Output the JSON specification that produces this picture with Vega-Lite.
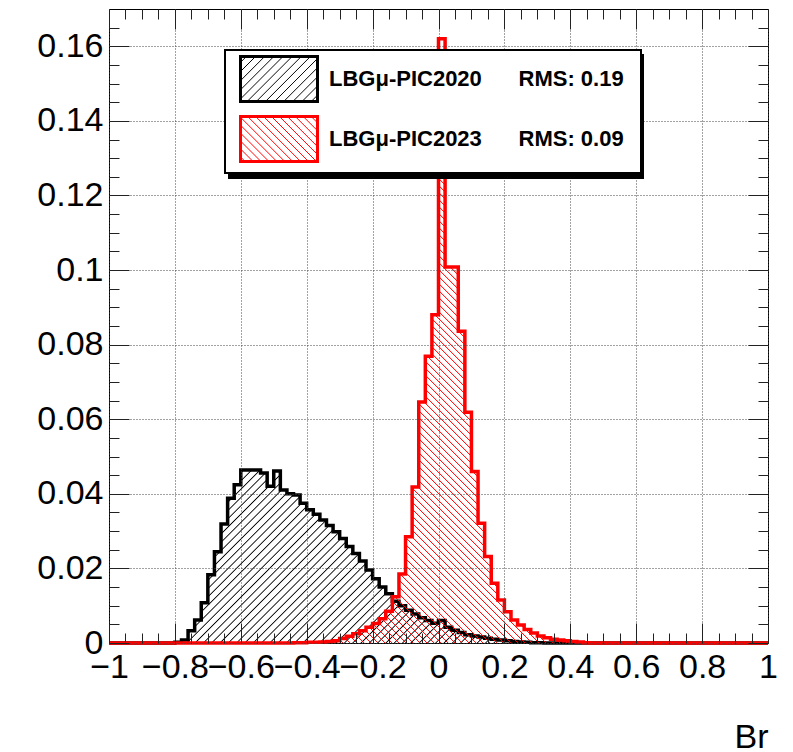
{
  "$schema": "https://vega.github.io/schema/vega-lite/v6.json",
  "autosize": {"type": "none"},
  "width": 659,
  "height": 634,
  "padding": {"left": 109, "top": 9, "right": 25, "bottom": 109},
  "background": "white",
  "config": {
    "view": {"stroke": "black", "strokeWidth": 1},
    "legend": {"strokeWidth": 2}
  },
  "data": {"values": [
    {"x": -1.00, "a": 0, "b": 0}, {"x": -0.98, "a": 0, "b": 0}, {"x": -0.96, "a": 0, "b": 0}, {"x": -0.94, "a": 0, "b": 0},
    {"x": -0.92, "a": 0, "b": 0}, {"x": -0.90, "a": 0, "b": 0}, {"x": -0.88, "a": 0, "b": 0}, {"x": -0.86, "a": 0, "b": 0},
    {"x": -0.84, "a": 0, "b": 0}, {"x": -0.82, "a": 0, "b": 0}, {"x": -0.80, "a": 0.0002, "b": 0}, {"x": -0.78, "a": 0.0008, "b": 0},
    {"x": -0.76, "a": 0.0033, "b": 0}, {"x": -0.74, "a": 0.0062, "b": 0}, {"x": -0.72, "a": 0.0108, "b": 0}, {"x": -0.70, "a": 0.0183, "b": 0},
    {"x": -0.68, "a": 0.0245, "b": 0}, {"x": -0.66, "a": 0.0319, "b": 0}, {"x": -0.64, "a": 0.0388, "b": 0}, {"x": -0.62, "a": 0.0424, "b": 0},
    {"x": -0.60, "a": 0.0464, "b": 0}, {"x": -0.58, "a": 0.0464, "b": 0}, {"x": -0.56, "a": 0.0464, "b": 0}, {"x": -0.54, "a": 0.0456, "b": 0},
    {"x": -0.52, "a": 0.0420, "b": 0}, {"x": -0.50, "a": 0.0461, "b": 0}, {"x": -0.48, "a": 0.0410, "b": 0}, {"x": -0.46, "a": 0.0400, "b": 0},
    {"x": -0.44, "a": 0.0397, "b": 0.0001}, {"x": -0.42, "a": 0.0375, "b": 0.0001}, {"x": -0.40, "a": 0.0357, "b": 0.0002}, {"x": -0.38, "a": 0.0345, "b": 0.0002},
    {"x": -0.36, "a": 0.0330, "b": 0.0003}, {"x": -0.34, "a": 0.0315, "b": 0.0004}, {"x": -0.32, "a": 0.0298, "b": 0.0006}, {"x": -0.30, "a": 0.0280, "b": 0.0012},
    {"x": -0.28, "a": 0.0259, "b": 0.0018}, {"x": -0.26, "a": 0.0240, "b": 0.0025}, {"x": -0.24, "a": 0.0220, "b": 0.0033}, {"x": -0.22, "a": 0.0196, "b": 0.0042},
    {"x": -0.20, "a": 0.0172, "b": 0.0052}, {"x": -0.18, "a": 0.0150, "b": 0.0065}, {"x": -0.16, "a": 0.0132, "b": 0.0085}, {"x": -0.14, "a": 0.0112, "b": 0.0124},
    {"x": -0.12, "a": 0.0100, "b": 0.0185}, {"x": -0.10, "a": 0.0088, "b": 0.0285}, {"x": -0.08, "a": 0.0078, "b": 0.0418}, {"x": -0.06, "a": 0.0068, "b": 0.0646},
    {"x": -0.04, "a": 0.0060, "b": 0.0769}, {"x": -0.02, "a": 0.0053, "b": 0.0880}, {"x": 0.00, "a": 0.0060, "b": 0.1620}, {"x": 0.02, "a": 0.0042, "b": 0.1008},
    {"x": 0.04, "a": 0.0034, "b": 0.1008}, {"x": 0.06, "a": 0.0028, "b": 0.0836}, {"x": 0.08, "a": 0.0022, "b": 0.0619}, {"x": 0.10, "a": 0.0019, "b": 0.0460},
    {"x": 0.12, "a": 0.0016, "b": 0.0321}, {"x": 0.14, "a": 0.0013, "b": 0.0232}, {"x": 0.16, "a": 0.0010, "b": 0.0160}, {"x": 0.18, "a": 0.0008, "b": 0.0115},
    {"x": 0.20, "a": 0.0006, "b": 0.0084}, {"x": 0.22, "a": 0.0004, "b": 0.0062}, {"x": 0.24, "a": 0.0003, "b": 0.0048}, {"x": 0.26, "a": 0.0002, "b": 0.0036},
    {"x": 0.28, "a": 0.0001, "b": 0.0027}, {"x": 0.30, "a": 0.0001, "b": 0.0019}, {"x": 0.32, "a": 0, "b": 0.0014}, {"x": 0.34, "a": 0, "b": 0.0010},
    {"x": 0.36, "a": 0, "b": 0.0008}, {"x": 0.38, "a": 0, "b": 0.0006}, {"x": 0.40, "a": 0, "b": 0.0004}, {"x": 0.42, "a": 0, "b": 0.0003},
    {"x": 0.44, "a": 0, "b": 0.0001}, {"x": 0.46, "a": 0, "b": 0}, {"x": 0.48, "a": 0, "b": 0}, {"x": 0.50, "a": 0, "b": 0},
    {"x": 0.52, "a": 0, "b": 0}, {"x": 0.54, "a": 0, "b": 0}, {"x": 0.56, "a": 0, "b": 0}, {"x": 0.58, "a": 0, "b": 0},
    {"x": 0.60, "a": 0, "b": 0}, {"x": 0.62, "a": 0, "b": 0}, {"x": 0.64, "a": 0, "b": 0}, {"x": 0.66, "a": 0, "b": 0},
    {"x": 0.68, "a": 0, "b": 0}, {"x": 0.70, "a": 0, "b": 0}, {"x": 0.72, "a": 0, "b": 0}, {"x": 0.74, "a": 0, "b": 0},
    {"x": 0.76, "a": 0, "b": 0}, {"x": 0.78, "a": 0, "b": 0}, {"x": 0.80, "a": 0, "b": 0}, {"x": 0.82, "a": 0, "b": 0},
    {"x": 0.84, "a": 0, "b": 0}, {"x": 0.86, "a": 0, "b": 0}, {"x": 0.88, "a": 0, "b": 0}, {"x": 0.90, "a": 0, "b": 0},
    {"x": 0.92, "a": 0, "b": 0}, {"x": 0.94, "a": 0, "b": 0}, {"x": 0.96, "a": 0, "b": 0}, {"x": 0.98, "a": 0, "b": 0},
    {"x": 1.00, "a": 0, "b": 0}
  ]},
  "resolve": {"axis": {"x": "independent", "y": "independent"}},
  "layer": [
    {
      "mark": {"type": "area", "interpolate": "step-after",
        "fill": {"gradient": "linear", "x1": 0.18968, "y1": 0, "x2": 1.36797, "y2": 0.30932, "stops": [
          {"offset":0,"color":"rgba(0,0,0,0)"},{"offset":0.0015,"color":"#000"},{"offset":0.003,"color":"rgba(0,0,0,0)"},
          {"offset":0.01,"color":"rgba(0,0,0,0)"},{"offset":0.0115,"color":"#000"},{"offset":0.013,"color":"rgba(0,0,0,0)"},
          {"offset":0.02,"color":"rgba(0,0,0,0)"},{"offset":0.0215,"color":"#000"},{"offset":0.023,"color":"rgba(0,0,0,0)"},
          {"offset":0.03,"color":"rgba(0,0,0,0)"},{"offset":0.0315,"color":"#000"},{"offset":0.033,"color":"rgba(0,0,0,0)"},
          {"offset":0.04,"color":"rgba(0,0,0,0)"},{"offset":0.0415,"color":"#000"},{"offset":0.043,"color":"rgba(0,0,0,0)"},
          {"offset":0.05,"color":"rgba(0,0,0,0)"},{"offset":0.0515,"color":"#000"},{"offset":0.053,"color":"rgba(0,0,0,0)"},
          {"offset":0.06,"color":"rgba(0,0,0,0)"},{"offset":0.0615,"color":"#000"},{"offset":0.063,"color":"rgba(0,0,0,0)"},
          {"offset":0.07,"color":"rgba(0,0,0,0)"},{"offset":0.0715,"color":"#000"},{"offset":0.073,"color":"rgba(0,0,0,0)"},
          {"offset":0.08,"color":"rgba(0,0,0,0)"},{"offset":0.0815,"color":"#000"},{"offset":0.083,"color":"rgba(0,0,0,0)"},
          {"offset":0.09,"color":"rgba(0,0,0,0)"},{"offset":0.0915,"color":"#000"},{"offset":0.093,"color":"rgba(0,0,0,0)"},
          {"offset":0.10,"color":"rgba(0,0,0,0)"},{"offset":0.1015,"color":"#000"},{"offset":0.103,"color":"rgba(0,0,0,0)"},
          {"offset":0.11,"color":"rgba(0,0,0,0)"},{"offset":0.1115,"color":"#000"},{"offset":0.113,"color":"rgba(0,0,0,0)"},
          {"offset":0.12,"color":"rgba(0,0,0,0)"},{"offset":0.1215,"color":"#000"},{"offset":0.123,"color":"rgba(0,0,0,0)"},
          {"offset":0.13,"color":"rgba(0,0,0,0)"},{"offset":0.1315,"color":"#000"},{"offset":0.133,"color":"rgba(0,0,0,0)"},
          {"offset":0.14,"color":"rgba(0,0,0,0)"},{"offset":0.1415,"color":"#000"},{"offset":0.143,"color":"rgba(0,0,0,0)"},
          {"offset":0.15,"color":"rgba(0,0,0,0)"},{"offset":0.1515,"color":"#000"},{"offset":0.153,"color":"rgba(0,0,0,0)"},
          {"offset":0.16,"color":"rgba(0,0,0,0)"},{"offset":0.1615,"color":"#000"},{"offset":0.163,"color":"rgba(0,0,0,0)"},
          {"offset":0.17,"color":"rgba(0,0,0,0)"},{"offset":0.1715,"color":"#000"},{"offset":0.173,"color":"rgba(0,0,0,0)"},
          {"offset":0.18,"color":"rgba(0,0,0,0)"},{"offset":0.1815,"color":"#000"},{"offset":0.183,"color":"rgba(0,0,0,0)"},
          {"offset":0.19,"color":"rgba(0,0,0,0)"},{"offset":0.1915,"color":"#000"},{"offset":0.193,"color":"rgba(0,0,0,0)"},
          {"offset":0.20,"color":"rgba(0,0,0,0)"},{"offset":0.2015,"color":"#000"},{"offset":0.203,"color":"rgba(0,0,0,0)"},
          {"offset":0.21,"color":"rgba(0,0,0,0)"},{"offset":0.2115,"color":"#000"},{"offset":0.213,"color":"rgba(0,0,0,0)"},
          {"offset":0.22,"color":"rgba(0,0,0,0)"},{"offset":0.2215,"color":"#000"},{"offset":0.223,"color":"rgba(0,0,0,0)"},
          {"offset":0.23,"color":"rgba(0,0,0,0)"},{"offset":0.2315,"color":"#000"},{"offset":0.233,"color":"rgba(0,0,0,0)"},
          {"offset":0.24,"color":"rgba(0,0,0,0)"},{"offset":0.2415,"color":"#000"},{"offset":0.243,"color":"rgba(0,0,0,0)"},
          {"offset":0.25,"color":"rgba(0,0,0,0)"},{"offset":0.2515,"color":"#000"},{"offset":0.253,"color":"rgba(0,0,0,0)"},
          {"offset":0.26,"color":"rgba(0,0,0,0)"},{"offset":0.2615,"color":"#000"},{"offset":0.263,"color":"rgba(0,0,0,0)"},
          {"offset":0.27,"color":"rgba(0,0,0,0)"},{"offset":0.2715,"color":"#000"},{"offset":0.273,"color":"rgba(0,0,0,0)"},
          {"offset":0.28,"color":"rgba(0,0,0,0)"},{"offset":0.2815,"color":"#000"},{"offset":0.283,"color":"rgba(0,0,0,0)"},
          {"offset":0.29,"color":"rgba(0,0,0,0)"},{"offset":0.2915,"color":"#000"},{"offset":0.293,"color":"rgba(0,0,0,0)"},
          {"offset":0.30,"color":"rgba(0,0,0,0)"},{"offset":0.3015,"color":"#000"},{"offset":0.303,"color":"rgba(0,0,0,0)"},
          {"offset":0.31,"color":"rgba(0,0,0,0)"},{"offset":0.3115,"color":"#000"},{"offset":0.313,"color":"rgba(0,0,0,0)"},
          {"offset":0.32,"color":"rgba(0,0,0,0)"},{"offset":0.3215,"color":"#000"},{"offset":0.323,"color":"rgba(0,0,0,0)"},
          {"offset":0.33,"color":"rgba(0,0,0,0)"},{"offset":0.3315,"color":"#000"},{"offset":0.333,"color":"rgba(0,0,0,0)"},
          {"offset":0.34,"color":"rgba(0,0,0,0)"},{"offset":0.3415,"color":"#000"},{"offset":0.343,"color":"rgba(0,0,0,0)"},
          {"offset":0.35,"color":"rgba(0,0,0,0)"},{"offset":0.3515,"color":"#000"},{"offset":0.353,"color":"rgba(0,0,0,0)"},
          {"offset":0.36,"color":"rgba(0,0,0,0)"},{"offset":0.3615,"color":"#000"},{"offset":0.363,"color":"rgba(0,0,0,0)"},
          {"offset":0.37,"color":"rgba(0,0,0,0)"},{"offset":0.3715,"color":"#000"},{"offset":0.373,"color":"rgba(0,0,0,0)"},
          {"offset":0.38,"color":"rgba(0,0,0,0)"},{"offset":0.3815,"color":"#000"},{"offset":0.383,"color":"rgba(0,0,0,0)"},
          {"offset":0.39,"color":"rgba(0,0,0,0)"},{"offset":0.3915,"color":"#000"},{"offset":0.393,"color":"rgba(0,0,0,0)"},
          {"offset":0.40,"color":"rgba(0,0,0,0)"},{"offset":0.4015,"color":"#000"},{"offset":0.403,"color":"rgba(0,0,0,0)"},
          {"offset":0.41,"color":"rgba(0,0,0,0)"},{"offset":0.4115,"color":"#000"},{"offset":0.413,"color":"rgba(0,0,0,0)"},
          {"offset":0.42,"color":"rgba(0,0,0,0)"},{"offset":0.4215,"color":"#000"},{"offset":0.423,"color":"rgba(0,0,0,0)"},
          {"offset":0.43,"color":"rgba(0,0,0,0)"},{"offset":0.4315,"color":"#000"},{"offset":0.433,"color":"rgba(0,0,0,0)"},
          {"offset":0.44,"color":"rgba(0,0,0,0)"},{"offset":0.4415,"color":"#000"},{"offset":0.443,"color":"rgba(0,0,0,0)"},
          {"offset":0.45,"color":"rgba(0,0,0,0)"},{"offset":0.4515,"color":"#000"},{"offset":0.453,"color":"rgba(0,0,0,0)"},
          {"offset":0.46,"color":"rgba(0,0,0,0)"},{"offset":0.4615,"color":"#000"},{"offset":0.463,"color":"rgba(0,0,0,0)"},
          {"offset":0.47,"color":"rgba(0,0,0,0)"},{"offset":0.4715,"color":"#000"},{"offset":0.473,"color":"rgba(0,0,0,0)"},
          {"offset":0.48,"color":"rgba(0,0,0,0)"},{"offset":0.4815,"color":"#000"},{"offset":0.483,"color":"rgba(0,0,0,0)"},
          {"offset":0.49,"color":"rgba(0,0,0,0)"},{"offset":0.4915,"color":"#000"},{"offset":0.493,"color":"rgba(0,0,0,0)"},
          {"offset":0.50,"color":"rgba(0,0,0,0)"},{"offset":0.5015,"color":"#000"},{"offset":0.503,"color":"rgba(0,0,0,0)"},
          {"offset":0.51,"color":"rgba(0,0,0,0)"},{"offset":0.5115,"color":"#000"},{"offset":0.513,"color":"rgba(0,0,0,0)"},
          {"offset":0.52,"color":"rgba(0,0,0,0)"},{"offset":0.5215,"color":"#000"},{"offset":0.523,"color":"rgba(0,0,0,0)"},
          {"offset":0.53,"color":"rgba(0,0,0,0)"},{"offset":0.5315,"color":"#000"},{"offset":0.533,"color":"rgba(0,0,0,0)"},
          {"offset":0.54,"color":"rgba(0,0,0,0)"},{"offset":0.5415,"color":"#000"},{"offset":0.543,"color":"rgba(0,0,0,0)"},
          {"offset":0.55,"color":"rgba(0,0,0,0)"},{"offset":0.5515,"color":"#000"},{"offset":0.553,"color":"rgba(0,0,0,0)"},
          {"offset":0.56,"color":"rgba(0,0,0,0)"},{"offset":0.5615,"color":"#000"},{"offset":0.563,"color":"rgba(0,0,0,0)"},
          {"offset":0.57,"color":"rgba(0,0,0,0)"},{"offset":0.5715,"color":"#000"},{"offset":0.573,"color":"rgba(0,0,0,0)"},
          {"offset":0.58,"color":"rgba(0,0,0,0)"},{"offset":0.5815,"color":"#000"},{"offset":0.583,"color":"rgba(0,0,0,0)"},
          {"offset":0.59,"color":"rgba(0,0,0,0)"},{"offset":0.5915,"color":"#000"},{"offset":0.593,"color":"rgba(0,0,0,0)"}
        ]}
      },
      "encoding": {
        "x": {"field": "x", "type": "quantitative",
          "scale": {"domain": [-1, 1], "nice": false, "zero": false},
          "axis": {
            "orient": "bottom", "domain": false, "title": "Br",
            "values": [-1,-0.95,-0.9,-0.85,-0.8,-0.75,-0.7,-0.65,-0.6,-0.55,-0.5,-0.45,-0.4,-0.35,-0.3,-0.25,-0.2,-0.15,-0.1,-0.05,0,0.05,0.1,0.15,0.2,0.25,0.3,0.35,0.4,0.45,0.5,0.55,0.6,0.65,0.7,0.75,0.8,0.85,0.9,0.95,1],
            "labelExpr": "abs(datum.value*5-round(datum.value*5))<1e-6 ? format(datum.value,'.1~f') : ''",
            "labelFont": "Liberation Sans", "labelFontSize": 34, "labelColor": "black",
            "labelPadding": 27, "labelOverlap": false, "labelFlush": false, "labelBound": false,
            "tickSize": {"condition": {"test": "abs(datum.value*5-round(datum.value*5))<1e-6", "value": -20}, "value": -10},
            "tickColor": "#222", "tickWidth": 1,
            "grid": true, "gridDash": [1, 2], "gridColor": "#444", "gridWidth": 1,
            "gridOpacity": {"condition": {"test": "abs(datum.value*5-round(datum.value*5))<1e-6", "value": 1}, "value": 0},
            "titleFont": "Liberation Sans", "titleFontSize": 34, "titleFontWeight": "normal", "titleColor": "black",
            "titleAnchor": "end", "titleAlign": "right", "titleX": 659, "titleY": 104, "titleBaseline": "alphabetic",
            "zindex": 1
          }
        },
        "y": {"field": "a", "type": "quantitative",
          "scale": {"domain": [0, 0.17], "nice": false},
          "axis": {
            "orient": "left", "domain": false, "title": null,
            "values": [0,0.005,0.01,0.015,0.02,0.025,0.03,0.035,0.04,0.045,0.05,0.055,0.06,0.065,0.07,0.075,0.08,0.085,0.09,0.095,0.1,0.105,0.11,0.115,0.12,0.125,0.13,0.135,0.14,0.145,0.15,0.155,0.16,0.165],
            "labelExpr": "abs(datum.value*50-round(datum.value*50))<1e-6 ? format(datum.value,'.2~f') : ''",
            "labelFont": "Liberation Sans", "labelFontSize": 34, "labelColor": "black",
            "labelPadding": 26, "labelOverlap": false, "labelFlush": false, "labelBound": false,
            "tickSize": {"condition": {"test": "abs(datum.value*50-round(datum.value*50))<1e-6", "value": -20}, "value": -10},
            "tickColor": "#222", "tickWidth": 1,
            "grid": true, "gridDash": [1, 2], "gridColor": "#444", "gridWidth": 1,
            "gridOpacity": {"condition": {"test": "abs(datum.value*50-round(datum.value*50))<1e-6", "value": 1}, "value": 0},
            "zindex": 1
          }
        }
      }
    },
    {
      "mark": {"type": "line", "interpolate": "step-after", "strokeWidth": 3.5},
      "encoding": {
        "x": {"field": "x", "type": "quantitative", "axis": null},
        "y": {"field": "a", "type": "quantitative", "axis": null},
        "color": {"datum": "LBGμ-PIC2020",
          "scale": {"domain": ["LBGμ-PIC2020", "LBGμ-PIC2023"], "range": ["#000000", "#ff0000"]},
          "legend": {
            "orient": "none", "legendX": 116, "legendY": 41, "title": null, "direction": "vertical", "zindex": 3,
            "symbolType": "M-1.711,-1L1.711,-1L1.711,1L-1.711,1Z", "symbolSize": 2025, "symbolOffset": 25, "symbolStrokeWidth": 3,
            "labelFont": "Liberation Sans", "labelFontWeight": "bold", "labelFontSize": 22, "labelColor": "black",
            "labelOffset": 26, "rowPadding": 2, "padding": 5, "labelLimit": 0,
            "fillColor": "white", "strokeColor": "black",
            "labelExpr": "datum.label + '\u00a0\u00a0\u00a0\u00a0\u00a0\u00a0' + (datum.value == 'LBGμ-PIC2020' ? 'RMS: 0.19' : 'RMS: 0.09') + '\u00a0\u00a0\u200b'",
            "encode": {"symbols": {"update": {
              "fill": [
                {"test": "datum.value == 'LBGμ-PIC2020'", "value": {"gradient": "linear", "x1": 0, "y1": 0, "x2": 1.18104, "y2": 0.69021, "stops": [
                  {"offset":0.04,"color":"rgba(0,0,0,0)"},{"offset":0.048,"color":"#000"},{"offset":0.056,"color":"rgba(0,0,0,0)"},
                  {"offset":0.115,"color":"rgba(0,0,0,0)"},{"offset":0.123,"color":"#000"},{"offset":0.131,"color":"rgba(0,0,0,0)"},
                  {"offset":0.19,"color":"rgba(0,0,0,0)"},{"offset":0.198,"color":"#000"},{"offset":0.206,"color":"rgba(0,0,0,0)"},
                  {"offset":0.265,"color":"rgba(0,0,0,0)"},{"offset":0.273,"color":"#000"},{"offset":0.281,"color":"rgba(0,0,0,0)"},
                  {"offset":0.34,"color":"rgba(0,0,0,0)"},{"offset":0.348,"color":"#000"},{"offset":0.356,"color":"rgba(0,0,0,0)"},
                  {"offset":0.415,"color":"rgba(0,0,0,0)"},{"offset":0.423,"color":"#000"},{"offset":0.431,"color":"rgba(0,0,0,0)"},
                  {"offset":0.49,"color":"rgba(0,0,0,0)"},{"offset":0.498,"color":"#000"},{"offset":0.506,"color":"rgba(0,0,0,0)"},
                  {"offset":0.565,"color":"rgba(0,0,0,0)"},{"offset":0.573,"color":"#000"},{"offset":0.581,"color":"rgba(0,0,0,0)"},
                  {"offset":0.64,"color":"rgba(0,0,0,0)"},{"offset":0.648,"color":"#000"},{"offset":0.656,"color":"rgba(0,0,0,0)"},
                  {"offset":0.715,"color":"rgba(0,0,0,0)"},{"offset":0.723,"color":"#000"},{"offset":0.731,"color":"rgba(0,0,0,0)"},
                  {"offset":0.79,"color":"rgba(0,0,0,0)"},{"offset":0.798,"color":"#000"},{"offset":0.806,"color":"rgba(0,0,0,0)"},
                  {"offset":0.865,"color":"rgba(0,0,0,0)"},{"offset":0.873,"color":"#000"},{"offset":0.881,"color":"rgba(0,0,0,0)"},
                  {"offset":0.94,"color":"rgba(0,0,0,0)"},{"offset":0.948,"color":"#000"},{"offset":0.956,"color":"rgba(0,0,0,0)"}
                ]}},
                {"value": {"gradient": "linear", "x1": 0, "y1": 1, "x2": 1.18104, "y2": 0.30979, "stops": [
                  {"offset":0.03,"color":"rgba(255,0,0,0)"},{"offset":0.038,"color":"#f00"},{"offset":0.046,"color":"rgba(255,0,0,0)"},
                  {"offset":0.095,"color":"rgba(255,0,0,0)"},{"offset":0.103,"color":"#f00"},{"offset":0.111,"color":"rgba(255,0,0,0)"},
                  {"offset":0.16,"color":"rgba(255,0,0,0)"},{"offset":0.168,"color":"#f00"},{"offset":0.176,"color":"rgba(255,0,0,0)"},
                  {"offset":0.225,"color":"rgba(255,0,0,0)"},{"offset":0.233,"color":"#f00"},{"offset":0.241,"color":"rgba(255,0,0,0)"},
                  {"offset":0.29,"color":"rgba(255,0,0,0)"},{"offset":0.298,"color":"#f00"},{"offset":0.306,"color":"rgba(255,0,0,0)"},
                  {"offset":0.355,"color":"rgba(255,0,0,0)"},{"offset":0.363,"color":"#f00"},{"offset":0.371,"color":"rgba(255,0,0,0)"},
                  {"offset":0.42,"color":"rgba(255,0,0,0)"},{"offset":0.428,"color":"#f00"},{"offset":0.436,"color":"rgba(255,0,0,0)"},
                  {"offset":0.485,"color":"rgba(255,0,0,0)"},{"offset":0.493,"color":"#f00"},{"offset":0.501,"color":"rgba(255,0,0,0)"},
                  {"offset":0.55,"color":"rgba(255,0,0,0)"},{"offset":0.558,"color":"#f00"},{"offset":0.566,"color":"rgba(255,0,0,0)"},
                  {"offset":0.615,"color":"rgba(255,0,0,0)"},{"offset":0.623,"color":"#f00"},{"offset":0.631,"color":"rgba(255,0,0,0)"},
                  {"offset":0.68,"color":"rgba(255,0,0,0)"},{"offset":0.688,"color":"#f00"},{"offset":0.696,"color":"rgba(255,0,0,0)"},
                  {"offset":0.745,"color":"rgba(255,0,0,0)"},{"offset":0.753,"color":"#f00"},{"offset":0.761,"color":"rgba(255,0,0,0)"},
                  {"offset":0.81,"color":"rgba(255,0,0,0)"},{"offset":0.818,"color":"#f00"},{"offset":0.826,"color":"rgba(255,0,0,0)"},
                  {"offset":0.875,"color":"rgba(255,0,0,0)"},{"offset":0.883,"color":"#f00"},{"offset":0.891,"color":"rgba(255,0,0,0)"},
                  {"offset":0.94,"color":"rgba(255,0,0,0)"},{"offset":0.948,"color":"#f00"},{"offset":0.956,"color":"rgba(255,0,0,0)"}
                ]}}
              ],
              "fillOpacity": {"value": 1},
              "stroke": {"scale": "color", "field": "value"},
              "strokeWidth": {"value": 3}
            }}}
          }
        }
      }
    },
    {
      "mark": {"type": "area", "interpolate": "step-after",
        "fill": {"gradient": "linear", "x1": 0.25797, "y1": 1, "x2": 0.83524, "y2": 0.4709, "stops": [
          {"offset":0,"color":"rgba(255,0,0,0)"},{"offset":0.0015,"color":"#f00"},{"offset":0.003,"color":"rgba(255,0,0,0)"},
          {"offset":0.01,"color":"rgba(255,0,0,0)"},{"offset":0.0115,"color":"#f00"},{"offset":0.013,"color":"rgba(255,0,0,0)"},
          {"offset":0.02,"color":"rgba(255,0,0,0)"},{"offset":0.0215,"color":"#f00"},{"offset":0.023,"color":"rgba(255,0,0,0)"},
          {"offset":0.03,"color":"rgba(255,0,0,0)"},{"offset":0.0315,"color":"#f00"},{"offset":0.033,"color":"rgba(255,0,0,0)"},
          {"offset":0.04,"color":"rgba(255,0,0,0)"},{"offset":0.0415,"color":"#f00"},{"offset":0.043,"color":"rgba(255,0,0,0)"},
          {"offset":0.05,"color":"rgba(255,0,0,0)"},{"offset":0.0515,"color":"#f00"},{"offset":0.053,"color":"rgba(255,0,0,0)"},
          {"offset":0.06,"color":"rgba(255,0,0,0)"},{"offset":0.0615,"color":"#f00"},{"offset":0.063,"color":"rgba(255,0,0,0)"},
          {"offset":0.07,"color":"rgba(255,0,0,0)"},{"offset":0.0715,"color":"#f00"},{"offset":0.073,"color":"rgba(255,0,0,0)"},
          {"offset":0.08,"color":"rgba(255,0,0,0)"},{"offset":0.0815,"color":"#f00"},{"offset":0.083,"color":"rgba(255,0,0,0)"},
          {"offset":0.09,"color":"rgba(255,0,0,0)"},{"offset":0.0915,"color":"#f00"},{"offset":0.093,"color":"rgba(255,0,0,0)"},
          {"offset":0.10,"color":"rgba(255,0,0,0)"},{"offset":0.1015,"color":"#f00"},{"offset":0.103,"color":"rgba(255,0,0,0)"},
          {"offset":0.11,"color":"rgba(255,0,0,0)"},{"offset":0.1115,"color":"#f00"},{"offset":0.113,"color":"rgba(255,0,0,0)"},
          {"offset":0.12,"color":"rgba(255,0,0,0)"},{"offset":0.1215,"color":"#f00"},{"offset":0.123,"color":"rgba(255,0,0,0)"},
          {"offset":0.13,"color":"rgba(255,0,0,0)"},{"offset":0.1315,"color":"#f00"},{"offset":0.133,"color":"rgba(255,0,0,0)"},
          {"offset":0.14,"color":"rgba(255,0,0,0)"},{"offset":0.1415,"color":"#f00"},{"offset":0.143,"color":"rgba(255,0,0,0)"},
          {"offset":0.15,"color":"rgba(255,0,0,0)"},{"offset":0.1515,"color":"#f00"},{"offset":0.153,"color":"rgba(255,0,0,0)"},
          {"offset":0.16,"color":"rgba(255,0,0,0)"},{"offset":0.1615,"color":"#f00"},{"offset":0.163,"color":"rgba(255,0,0,0)"},
          {"offset":0.17,"color":"rgba(255,0,0,0)"},{"offset":0.1715,"color":"#f00"},{"offset":0.173,"color":"rgba(255,0,0,0)"},
          {"offset":0.18,"color":"rgba(255,0,0,0)"},{"offset":0.1815,"color":"#f00"},{"offset":0.183,"color":"rgba(255,0,0,0)"},
          {"offset":0.19,"color":"rgba(255,0,0,0)"},{"offset":0.1915,"color":"#f00"},{"offset":0.193,"color":"rgba(255,0,0,0)"},
          {"offset":0.20,"color":"rgba(255,0,0,0)"},{"offset":0.2015,"color":"#f00"},{"offset":0.203,"color":"rgba(255,0,0,0)"},
          {"offset":0.21,"color":"rgba(255,0,0,0)"},{"offset":0.2115,"color":"#f00"},{"offset":0.213,"color":"rgba(255,0,0,0)"},
          {"offset":0.22,"color":"rgba(255,0,0,0)"},{"offset":0.2215,"color":"#f00"},{"offset":0.223,"color":"rgba(255,0,0,0)"},
          {"offset":0.23,"color":"rgba(255,0,0,0)"},{"offset":0.2315,"color":"#f00"},{"offset":0.233,"color":"rgba(255,0,0,0)"},
          {"offset":0.24,"color":"rgba(255,0,0,0)"},{"offset":0.2415,"color":"#f00"},{"offset":0.243,"color":"rgba(255,0,0,0)"},
          {"offset":0.25,"color":"rgba(255,0,0,0)"},{"offset":0.2515,"color":"#f00"},{"offset":0.253,"color":"rgba(255,0,0,0)"},
          {"offset":0.26,"color":"rgba(255,0,0,0)"},{"offset":0.2615,"color":"#f00"},{"offset":0.263,"color":"rgba(255,0,0,0)"},
          {"offset":0.27,"color":"rgba(255,0,0,0)"},{"offset":0.2715,"color":"#f00"},{"offset":0.273,"color":"rgba(255,0,0,0)"},
          {"offset":0.28,"color":"rgba(255,0,0,0)"},{"offset":0.2815,"color":"#f00"},{"offset":0.283,"color":"rgba(255,0,0,0)"},
          {"offset":0.29,"color":"rgba(255,0,0,0)"},{"offset":0.2915,"color":"#f00"},{"offset":0.293,"color":"rgba(255,0,0,0)"},
          {"offset":0.30,"color":"rgba(255,0,0,0)"},{"offset":0.3015,"color":"#f00"},{"offset":0.303,"color":"rgba(255,0,0,0)"},
          {"offset":0.31,"color":"rgba(255,0,0,0)"},{"offset":0.3115,"color":"#f00"},{"offset":0.313,"color":"rgba(255,0,0,0)"},
          {"offset":0.32,"color":"rgba(255,0,0,0)"},{"offset":0.3215,"color":"#f00"},{"offset":0.323,"color":"rgba(255,0,0,0)"},
          {"offset":0.33,"color":"rgba(255,0,0,0)"},{"offset":0.3315,"color":"#f00"},{"offset":0.333,"color":"rgba(255,0,0,0)"},
          {"offset":0.34,"color":"rgba(255,0,0,0)"},{"offset":0.3415,"color":"#f00"},{"offset":0.343,"color":"rgba(255,0,0,0)"},
          {"offset":0.35,"color":"rgba(255,0,0,0)"},{"offset":0.3515,"color":"#f00"},{"offset":0.353,"color":"rgba(255,0,0,0)"},
          {"offset":0.36,"color":"rgba(255,0,0,0)"},{"offset":0.3615,"color":"#f00"},{"offset":0.363,"color":"rgba(255,0,0,0)"},
          {"offset":0.37,"color":"rgba(255,0,0,0)"},{"offset":0.3715,"color":"#f00"},{"offset":0.373,"color":"rgba(255,0,0,0)"},
          {"offset":0.38,"color":"rgba(255,0,0,0)"},{"offset":0.3815,"color":"#f00"},{"offset":0.383,"color":"rgba(255,0,0,0)"},
          {"offset":0.39,"color":"rgba(255,0,0,0)"},{"offset":0.3915,"color":"#f00"},{"offset":0.393,"color":"rgba(255,0,0,0)"},
          {"offset":0.40,"color":"rgba(255,0,0,0)"},{"offset":0.4015,"color":"#f00"},{"offset":0.403,"color":"rgba(255,0,0,0)"},
          {"offset":0.41,"color":"rgba(255,0,0,0)"},{"offset":0.4115,"color":"#f00"},{"offset":0.413,"color":"rgba(255,0,0,0)"},
          {"offset":0.42,"color":"rgba(255,0,0,0)"},{"offset":0.4215,"color":"#f00"},{"offset":0.423,"color":"rgba(255,0,0,0)"},
          {"offset":0.43,"color":"rgba(255,0,0,0)"},{"offset":0.4315,"color":"#f00"},{"offset":0.433,"color":"rgba(255,0,0,0)"},
          {"offset":0.44,"color":"rgba(255,0,0,0)"},{"offset":0.4415,"color":"#f00"},{"offset":0.443,"color":"rgba(255,0,0,0)"},
          {"offset":0.45,"color":"rgba(255,0,0,0)"},{"offset":0.4515,"color":"#f00"},{"offset":0.453,"color":"rgba(255,0,0,0)"},
          {"offset":0.46,"color":"rgba(255,0,0,0)"},{"offset":0.4615,"color":"#f00"},{"offset":0.463,"color":"rgba(255,0,0,0)"},
          {"offset":0.47,"color":"rgba(255,0,0,0)"},{"offset":0.4715,"color":"#f00"},{"offset":0.473,"color":"rgba(255,0,0,0)"},
          {"offset":0.48,"color":"rgba(255,0,0,0)"},{"offset":0.4815,"color":"#f00"},{"offset":0.483,"color":"rgba(255,0,0,0)"},
          {"offset":0.49,"color":"rgba(255,0,0,0)"},{"offset":0.4915,"color":"#f00"},{"offset":0.493,"color":"rgba(255,0,0,0)"},
          {"offset":0.50,"color":"rgba(255,0,0,0)"},{"offset":0.5015,"color":"#f00"},{"offset":0.503,"color":"rgba(255,0,0,0)"},
          {"offset":0.51,"color":"rgba(255,0,0,0)"},{"offset":0.5115,"color":"#f00"},{"offset":0.513,"color":"rgba(255,0,0,0)"},
          {"offset":0.52,"color":"rgba(255,0,0,0)"},{"offset":0.5215,"color":"#f00"},{"offset":0.523,"color":"rgba(255,0,0,0)"},
          {"offset":0.53,"color":"rgba(255,0,0,0)"},{"offset":0.5315,"color":"#f00"},{"offset":0.533,"color":"rgba(255,0,0,0)"},
          {"offset":0.54,"color":"rgba(255,0,0,0)"},{"offset":0.5415,"color":"#f00"},{"offset":0.543,"color":"rgba(255,0,0,0)"},
          {"offset":0.55,"color":"rgba(255,0,0,0)"},{"offset":0.5515,"color":"#f00"},{"offset":0.553,"color":"rgba(255,0,0,0)"},
          {"offset":0.56,"color":"rgba(255,0,0,0)"},{"offset":0.5615,"color":"#f00"},{"offset":0.563,"color":"rgba(255,0,0,0)"},
          {"offset":0.57,"color":"rgba(255,0,0,0)"},{"offset":0.5715,"color":"#f00"},{"offset":0.573,"color":"rgba(255,0,0,0)"},
          {"offset":0.58,"color":"rgba(255,0,0,0)"},{"offset":0.5815,"color":"#f00"},{"offset":0.583,"color":"rgba(255,0,0,0)"},
          {"offset":0.59,"color":"rgba(255,0,0,0)"},{"offset":0.5915,"color":"#f00"},{"offset":0.593,"color":"rgba(255,0,0,0)"},
          {"offset":0.60,"color":"rgba(255,0,0,0)"},{"offset":0.6015,"color":"#f00"},{"offset":0.603,"color":"rgba(255,0,0,0)"},
          {"offset":0.61,"color":"rgba(255,0,0,0)"},{"offset":0.6115,"color":"#f00"},{"offset":0.613,"color":"rgba(255,0,0,0)"},
          {"offset":0.62,"color":"rgba(255,0,0,0)"},{"offset":0.6215,"color":"#f00"},{"offset":0.623,"color":"rgba(255,0,0,0)"},
          {"offset":0.63,"color":"rgba(255,0,0,0)"},{"offset":0.6315,"color":"#f00"},{"offset":0.633,"color":"rgba(255,0,0,0)"},
          {"offset":0.64,"color":"rgba(255,0,0,0)"},{"offset":0.6415,"color":"#f00"},{"offset":0.643,"color":"rgba(255,0,0,0)"},
          {"offset":0.65,"color":"rgba(255,0,0,0)"},{"offset":0.6515,"color":"#f00"},{"offset":0.653,"color":"rgba(255,0,0,0)"},
          {"offset":0.66,"color":"rgba(255,0,0,0)"},{"offset":0.6615,"color":"#f00"},{"offset":0.663,"color":"rgba(255,0,0,0)"},
          {"offset":0.67,"color":"rgba(255,0,0,0)"},{"offset":0.6715,"color":"#f00"},{"offset":0.673,"color":"rgba(255,0,0,0)"},
          {"offset":0.68,"color":"rgba(255,0,0,0)"},{"offset":0.6815,"color":"#f00"},{"offset":0.683,"color":"rgba(255,0,0,0)"},
          {"offset":0.69,"color":"rgba(255,0,0,0)"},{"offset":0.6915,"color":"#f00"},{"offset":0.693,"color":"rgba(255,0,0,0)"},
          {"offset":0.70,"color":"rgba(255,0,0,0)"},{"offset":0.7015,"color":"#f00"},{"offset":0.703,"color":"rgba(255,0,0,0)"},
          {"offset":0.71,"color":"rgba(255,0,0,0)"},{"offset":0.7115,"color":"#f00"},{"offset":0.713,"color":"rgba(255,0,0,0)"},
          {"offset":0.72,"color":"rgba(255,0,0,0)"},{"offset":0.7215,"color":"#f00"},{"offset":0.723,"color":"rgba(255,0,0,0)"},
          {"offset":0.73,"color":"rgba(255,0,0,0)"},{"offset":0.7315,"color":"#f00"},{"offset":0.733,"color":"rgba(255,0,0,0)"},
          {"offset":0.74,"color":"rgba(255,0,0,0)"},{"offset":0.7415,"color":"#f00"},{"offset":0.743,"color":"rgba(255,0,0,0)"},
          {"offset":0.75,"color":"rgba(255,0,0,0)"},{"offset":0.7515,"color":"#f00"},{"offset":0.753,"color":"rgba(255,0,0,0)"},
          {"offset":0.76,"color":"rgba(255,0,0,0)"},{"offset":0.7615,"color":"#f00"},{"offset":0.763,"color":"rgba(255,0,0,0)"},
          {"offset":0.77,"color":"rgba(255,0,0,0)"},{"offset":0.7715,"color":"#f00"},{"offset":0.773,"color":"rgba(255,0,0,0)"},
          {"offset":0.78,"color":"rgba(255,0,0,0)"},{"offset":0.7815,"color":"#f00"},{"offset":0.783,"color":"rgba(255,0,0,0)"},
          {"offset":0.79,"color":"rgba(255,0,0,0)"},{"offset":0.7915,"color":"#f00"},{"offset":0.793,"color":"rgba(255,0,0,0)"},
          {"offset":0.80,"color":"rgba(255,0,0,0)"},{"offset":0.8015,"color":"#f00"},{"offset":0.803,"color":"rgba(255,0,0,0)"},
          {"offset":0.81,"color":"rgba(255,0,0,0)"},{"offset":0.8115,"color":"#f00"},{"offset":0.813,"color":"rgba(255,0,0,0)"},
          {"offset":0.82,"color":"rgba(255,0,0,0)"},{"offset":0.8215,"color":"#f00"},{"offset":0.823,"color":"rgba(255,0,0,0)"},
          {"offset":0.83,"color":"rgba(255,0,0,0)"},{"offset":0.8315,"color":"#f00"},{"offset":0.833,"color":"rgba(255,0,0,0)"},
          {"offset":0.84,"color":"rgba(255,0,0,0)"},{"offset":0.8415,"color":"#f00"},{"offset":0.843,"color":"rgba(255,0,0,0)"},
          {"offset":0.85,"color":"rgba(255,0,0,0)"},{"offset":0.8515,"color":"#f00"},{"offset":0.853,"color":"rgba(255,0,0,0)"},
          {"offset":0.86,"color":"rgba(255,0,0,0)"},{"offset":0.8615,"color":"#f00"},{"offset":0.863,"color":"rgba(255,0,0,0)"},
          {"offset":0.87,"color":"rgba(255,0,0,0)"},{"offset":0.8715,"color":"#f00"},{"offset":0.873,"color":"rgba(255,0,0,0)"},
          {"offset":0.88,"color":"rgba(255,0,0,0)"},{"offset":0.8815,"color":"#f00"},{"offset":0.883,"color":"rgba(255,0,0,0)"},
          {"offset":0.89,"color":"rgba(255,0,0,0)"},{"offset":0.8915,"color":"#f00"},{"offset":0.893,"color":"rgba(255,0,0,0)"},
          {"offset":0.90,"color":"rgba(255,0,0,0)"},{"offset":0.9015,"color":"#f00"},{"offset":0.903,"color":"rgba(255,0,0,0)"},
          {"offset":0.91,"color":"rgba(255,0,0,0)"},{"offset":0.9115,"color":"#f00"},{"offset":0.913,"color":"rgba(255,0,0,0)"},
          {"offset":0.92,"color":"rgba(255,0,0,0)"},{"offset":0.9215,"color":"#f00"},{"offset":0.923,"color":"rgba(255,0,0,0)"},
          {"offset":0.93,"color":"rgba(255,0,0,0)"},{"offset":0.9315,"color":"#f00"},{"offset":0.933,"color":"rgba(255,0,0,0)"},
          {"offset":0.94,"color":"rgba(255,0,0,0)"},{"offset":0.9415,"color":"#f00"},{"offset":0.943,"color":"rgba(255,0,0,0)"},
          {"offset":0.95,"color":"rgba(255,0,0,0)"},{"offset":0.9515,"color":"#f00"},{"offset":0.953,"color":"rgba(255,0,0,0)"},
          {"offset":0.96,"color":"rgba(255,0,0,0)"},{"offset":0.9615,"color":"#f00"},{"offset":0.963,"color":"rgba(255,0,0,0)"},
          {"offset":0.97,"color":"rgba(255,0,0,0)"},{"offset":0.9715,"color":"#f00"},{"offset":0.973,"color":"rgba(255,0,0,0)"},
          {"offset":0.98,"color":"rgba(255,0,0,0)"},{"offset":0.9815,"color":"#f00"},{"offset":0.983,"color":"rgba(255,0,0,0)"},
          {"offset":0.99,"color":"rgba(255,0,0,0)"},{"offset":0.9915,"color":"#f00"},{"offset":0.993,"color":"rgba(255,0,0,0)"}
        ]}
      },
      "encoding": {
        "x": {"field": "x", "type": "quantitative",
          "axis": {
            "orient": "top", "domain": false, "title": null, "labels": false, "grid": false,
            "values": [-1,-0.95,-0.9,-0.85,-0.8,-0.75,-0.7,-0.65,-0.6,-0.55,-0.5,-0.45,-0.4,-0.35,-0.3,-0.25,-0.2,-0.15,-0.1,-0.05,0,0.05,0.1,0.15,0.2,0.25,0.3,0.35,0.4,0.45,0.5,0.55,0.6,0.65,0.7,0.75,0.8,0.85,0.9,0.95,1],
            "tickSize": {"condition": {"test": "abs(datum.value*5-round(datum.value*5))<1e-6", "value": -20}, "value": -10},
            "tickColor": "#222", "tickWidth": 1, "zindex": 1
          }
        },
        "y": {"field": "b", "type": "quantitative",
          "axis": {
            "orient": "right", "domain": false, "title": null, "labels": false, "grid": false,
            "values": [0,0.005,0.01,0.015,0.02,0.025,0.03,0.035,0.04,0.045,0.05,0.055,0.06,0.065,0.07,0.075,0.08,0.085,0.09,0.095,0.1,0.105,0.11,0.115,0.12,0.125,0.13,0.135,0.14,0.145,0.15,0.155,0.16,0.165],
            "tickSize": {"condition": {"test": "abs(datum.value*50-round(datum.value*50))<1e-6", "value": -20}, "value": -10},
            "tickColor": "#222", "tickWidth": 1, "zindex": 1
          }
        }
      }
    },
    {
      "mark": {"type": "line", "interpolate": "step-after", "strokeWidth": 3.5},
      "encoding": {
        "x": {"field": "x", "type": "quantitative", "axis": null},
        "y": {"field": "b", "type": "quantitative", "axis": null},
        "color": {"datum": "LBGμ-PIC2023"},
        "strokeDash": {"datum": "s2",
          "scale": {"domain": ["s1", "s2"], "range": [[1, 0], [1, 0]]},
          "legend": {
            "orient": "none", "legendX": 120, "legendY": 46, "title": null, "direction": "vertical", "zindex": 2,
            "symbolType": "M-1.711,-1L1.711,-1L1.711,1L-1.711,1Z", "symbolSize": 2025, "symbolOffset": 25, "symbolStrokeWidth": 3,
            "labelFontSize": 22, "labelOffset": 331, "rowPadding": 2, "padding": 5, "labelLimit": 0,
            "fillColor": "black", "strokeColor": "black",
            "labelExpr": "''",
            "encode": {"symbols": {"update": {
              "fill": {"value": "black"},
              "stroke": {"value": "black"},
              "strokeWidth": {"value": 3}
            }}}
          }
        }
      }
    }
  ]
}
